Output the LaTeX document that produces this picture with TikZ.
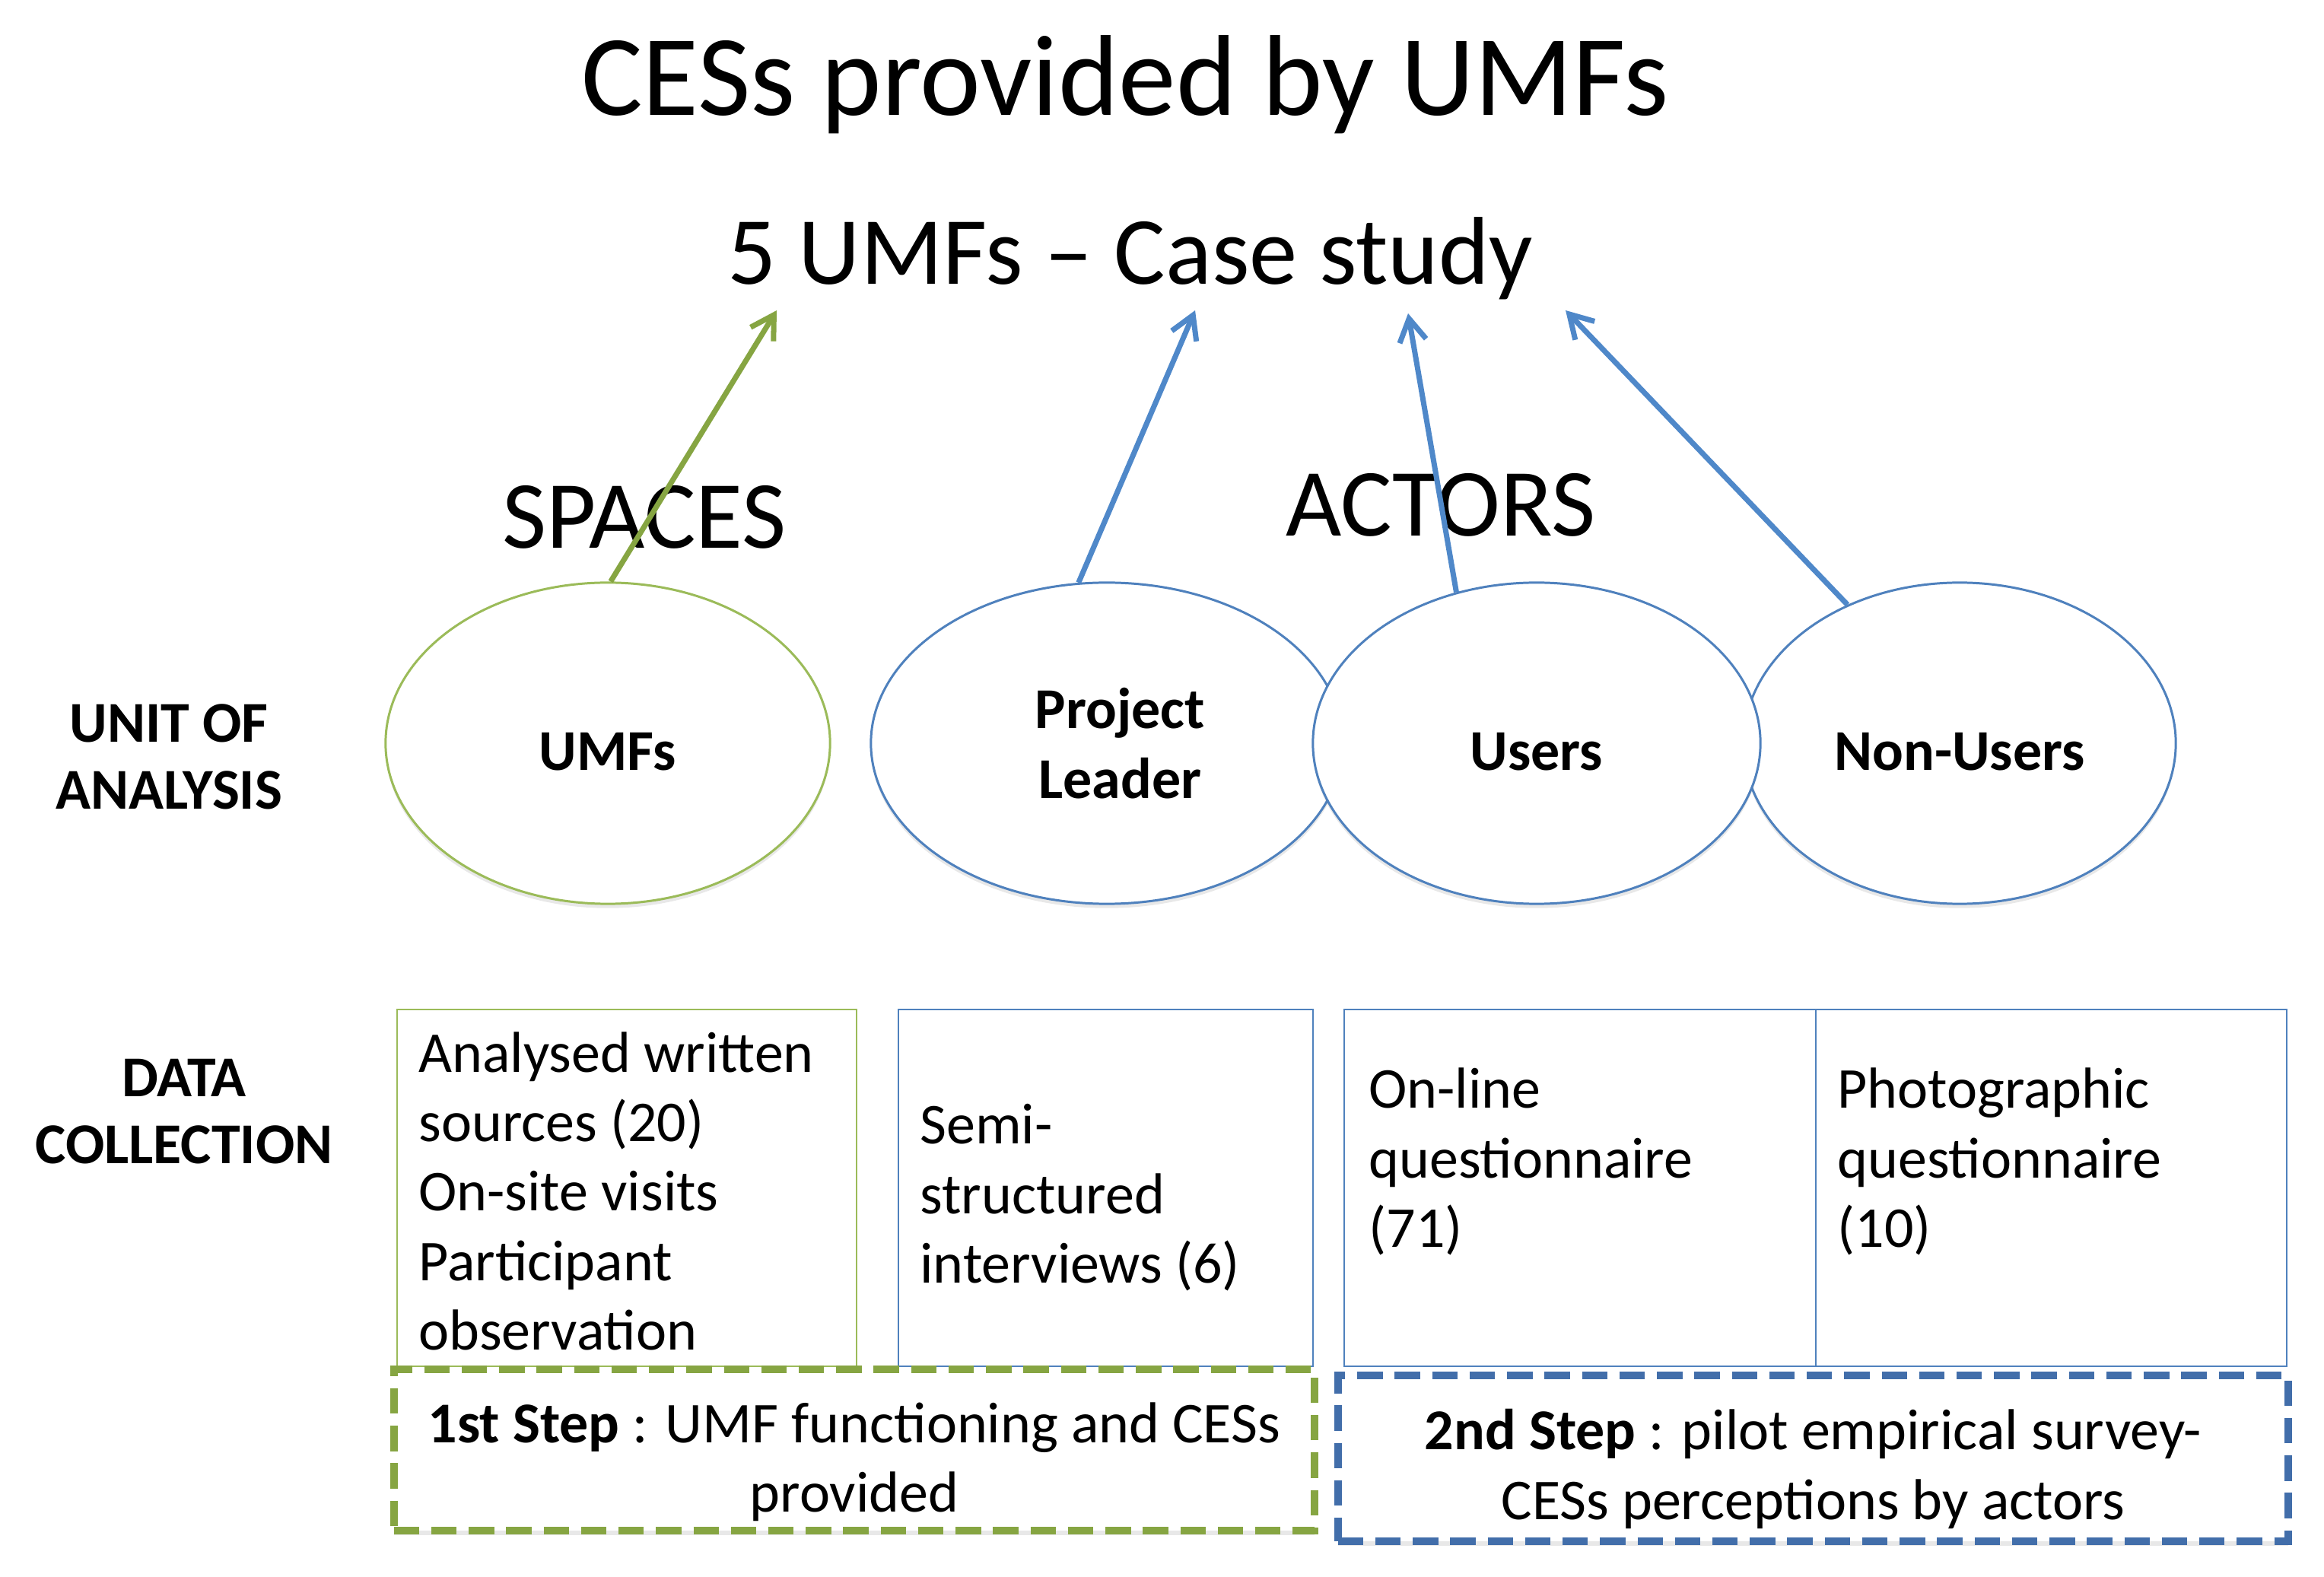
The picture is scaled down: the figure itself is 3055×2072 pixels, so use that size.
\documentclass[tikz,border=0pt]{standalone}
\usepackage{fontspec}
\setmainfont{Carlito}
\usepackage{tikz}
\usetikzlibrary{
  positioning,
  shapes.geometric,
  arrows.meta,
  shadows,
  calc,
  }
\definecolor{umfgreen}{HTML}{9BBB59}
\definecolor{darkgreen}{RGB}{134,165,66}
\definecolor{umfblue}{HTML}{4F81BD}
\definecolor{arrowblue}{RGB}{79,136,201}
\definecolor{darkblue}{RGB}{66,110,170}

\begin{document}
\begin{tikzpicture}[x=0.01cm, y=0.01cm,
    every node/.style={inner sep=0pt, font=\fontsize{21.6}{26}\selectfont},
    big/.style={font=\fontsize{36}{43}\selectfont},
    unit/.style={ellipse, draw, fill=white, line width=0.85pt, minimum height=4.22cm,
      align=center, font=\fontsize{21.6}{26}\selectfont\bfseries,
      execute at begin node=\rule{0pt}{20.5pt},
      drop shadow={opacity=0.18, shadow xshift=0pt, shadow yshift=-1.6pt}},
    side/.style={align=center, font=\fontsize{21.6}{25}\selectfont\bfseries},
    box/.style={rectangle, draw, line width=0.6pt, minimum height=4.69cm},
    txt/.style={align=left, anchor=base west},
    stepbox/.style={rectangle, draw, fill=white, line width=2.8pt,
      dash pattern=on 9.5pt off 4.5pt,
      drop shadow={opacity=0.18, shadow xshift=0pt, shadow yshift=-1.6pt}},
    arr/.style={line width=2pt, -{Straight Barb[length=8.5pt, width=10pt]}},
  ]
  \useasboundingbox (0,0) rectangle (3055,2072);

  \node[anchor=base, font=\fontsize{43}{52}\selectfont] (title) at (1479,1920) {CESs provided by UMFs};
  \node[anchor=base, big] (case) at (1486,1698) {5 UMFs – Case study};
  \node[anchor=base, big] (spaces) at (847,1351) {SPACES};
  \node[anchor=base, big] (actors) at (1894,1367) {ACTORS};

  % unit of analysis
  \node[side] (uoa) at (222,1077) {UNIT OF\\ANALYSIS};
  \node[unit, draw=umfgreen, minimum width=5.84cm] (umf) at (799,1095) {UMFs};
  \node[unit, draw=umfblue, minimum width=6.2cm] (pl) at (1455,1095) {\hspace*{0.35cm}Project\\\hspace*{0.35cm}Leader};
  \node[unit, draw=umfblue, minimum width=5.68cm] (nonu) at (2576,1095) {Non-Users};
  \node[unit, draw=umfblue, minimum width=5.88cm] (usr) at (2020,1095) {Users};

  % data collection
  \node[side] (dc) at (242,611) {DATA\\COLLECTION};
  \node[box, draw=umfgreen, minimum width=6.04cm] (b1) at (824,510.5) {};
  \node[box, draw=umfblue, minimum width=5.45cm] (b2) at (1453.5,510.5) {};
  \node[box, draw=umfblue, minimum width=6.2cm] (b3) at (2077,510.5) {};
  \node[box, draw=umfblue, minimum width=6.19cm] (b4) at (2696.5,510.5) {};
  \node[txt] (t1) at ($(b1.north west)+(29,-449)$) {Analysed written\\sources (20)\\On-site visits\\Participant\\observation};
  \node[txt] (t2) at ($(b2.north west)+(29,-361)$) {Semi-\\structured\\interviews (6)};
  \node[txt] (t3) at ($(b3.north west)+(33,-314)$) {On-line\\questionnaire\\(71)};
  \node[txt] (t4) at ($(b4.north west)+(29,-314)$) {Photographic\\questionnaire\\(10)};

  \node[stepbox, draw=darkgreen, minimum width=12.1cm, minimum height=2.12cm] (st1) at (1123,166) {};
  \node[align=center] (s1) at ([yshift=-4.5pt]st1.center) {\textbf{1st Step} : UMF functioning and CESs\\provided};
  \node[stepbox, draw=darkblue, minimum width=12.49cm, minimum height=2.18cm] (st2) at (2383.5,155) {};
  \node[align=center] (s2) at ([yshift=-4pt]st2.center) {\textbf{2nd Step} : pilot empirical survey-\\CESs perceptions by actors};

  % arrows to the case study
  \coordinate (g1) at (1021,1664);
  \coordinate (a1) at (1571,1664);
  \coordinate (a2) at (1851,1660);
  \coordinate (a3) at (2058,1664);
  \draw[arr, darkgreen] (umf.89) -- (g1);
  \draw[arr, arrowblue] (pl.100) -- (a1);
  \draw[arr, arrowblue] (usr.118) -- (a2);
  \draw[arr, arrowblue] (nonu.129) -- (a3);
\end{tikzpicture}
\end{document}
